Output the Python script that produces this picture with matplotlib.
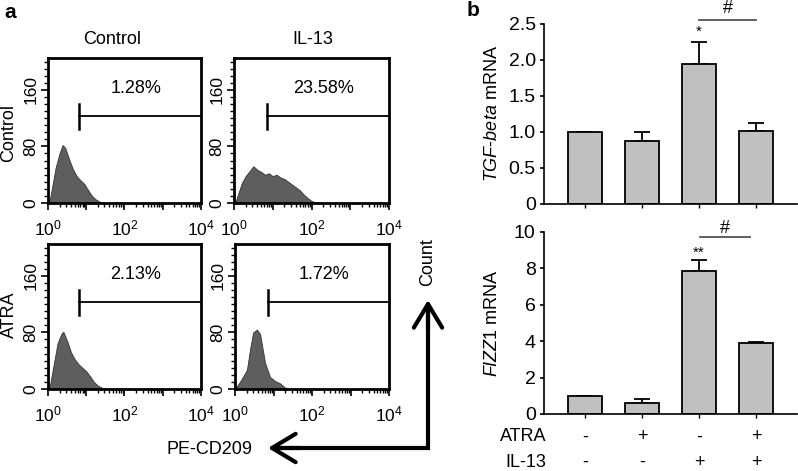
import numpy as np
import matplotlib
matplotlib.use("Agg")
import matplotlib.pyplot as plt
from matplotlib.ticker import LogLocator, MultipleLocator, FixedLocator, NullFormatter, FuncFormatter

plt.rcParams['font.family'] = ['Liberation Sans', 'DejaVu Sans']
plt.rcParams['mathtext.fontset'] = 'custom'
plt.rcParams['mathtext.rm'] = 'Liberation Sans'
plt.rcParams['mathtext.it'] = 'Liberation Sans:italic'

# ---- panel a: CD209 histograms (log10 intensity, count) ----
cc_logx = [0.0, 0.05, 0.1, 0.2, 0.3, 0.38, 0.45, 0.55, 0.65, 0.75, 0.85, 0.95, 1.05, 1.15, 1.25, 1.35, 1.45, 4.0]
cc_cnt = [2, 5, 20, 50, 70, 82, 78, 62, 48, 38, 32, 27, 18, 10, 5, 2, 0, 0]

ci_logx = [0.0, 0.05, 0.12, 0.2, 0.3, 0.4, 0.5, 0.6, 0.7, 0.8, 0.9, 1.0, 1.1, 1.2, 1.3, 1.4, 1.5, 1.6, 1.7, 1.8, 1.9, 2.0, 2.1, 2.2, 4.0]
ci_cnt = [0, 3, 15, 28, 38, 45, 52, 47, 44, 40, 42, 38, 40, 36, 34, 30, 26, 22, 18, 12, 7, 3, 1, 0, 0]

ac_logx = [0.0, 0.05, 0.15, 0.25, 0.35, 0.4, 0.5, 0.6, 0.7, 0.8, 0.9, 1.0, 1.1, 1.2, 1.3, 1.4, 1.5, 1.6, 4.0]
ac_cnt = [2, 5, 35, 65, 78, 81, 68, 52, 42, 35, 30, 25, 18, 10, 5, 2, 0.5, 0, 0]

ai_logx = [0.0, 0.05, 0.15, 0.31, 0.39, 0.47, 0.57, 0.65, 0.78, 0.91, 1.05, 1.17, 1.3, 1.45, 4.0]
ai_cnt = [1, 4, 12, 27, 56, 80, 84, 78, 37, 17, 11, 8, 2, 0, 0]

hist_x = [cc_logx, ci_logx, ac_logx, ai_logx]
hist_y = [cc_cnt, ci_cnt, ac_cnt, ai_cnt]
gate_start = [6.5, 7.1, 6.5, 7.2]
gate_pct = ['1.28%', '23.58%', '2.13%', '1.72%']
col_titles = ['Control', 'IL-13']
row_titles = ['Control', 'ATRA']

# ---- panel b: qPCR ----
groups = [0, 1, 2, 3]
tgf = [1.0, 0.87, 1.95, 1.02]
tgf_err = [0, 0.13, 0.30, 0.10]
fizz = [1.0, 0.60, 7.85, 3.92]
fizz_err = [0, 0.22, 0.60, 0.05]
atra = ['-', '+', '-', '+']
il13 = ['-', '-', '+', '+']

W, H = 798, 471
fig = plt.figure(figsize=(W / 100, H / 100), dpi=100)


def px_axes(l, t, r, b):
    return fig.add_axes([l / W, 1 - b / H, (r - l) / W, (b - t) / H])


hist_boxes = [(48, 58, 201, 203), (234, 58, 389, 203),
              (48, 244, 201, 389), (235, 244, 389, 389)]

for i, box in enumerate(hist_boxes):
    ax = px_axes(*box)
    x = 10 ** np.array(hist_x[i])
    ax.fill_between(x, 0, hist_y[i], color='#5e5e5e', edgecolor='#333333', lw=0.6)
    ax.set_xscale('log')
    ax.set_xlim(1, 1e4)
    ax.set_ylim(0, 205)
    for s in ax.spines.values():
        s.set_linewidth(2.0)
    ax.xaxis.set_major_locator(FixedLocator([1, 10, 100, 1000, 10000]))
    ax.xaxis.set_major_formatter(FuncFormatter(
        lambda v, p: r'$10^{%d}$' % round(np.log10(v)) if round(np.log10(v)) % 2 == 0 else ''))
    ax.xaxis.set_minor_locator(LogLocator(base=10, subs=np.arange(2, 10), numticks=20))
    ax.xaxis.set_minor_formatter(NullFormatter())
    ax.yaxis.set_major_locator(FixedLocator([0, 80, 160]))
    ax.yaxis.set_minor_locator(MultipleLocator(10))
    ax.set_yticklabels(['0', '80', '160'], rotation=90, va='center')
    ax.tick_params(which='major', direction='out', length=5, width=1.2, labelsize=12.5, pad=2)
    ax.tick_params(axis='x', which='major', pad=6)
    ax.tick_params(which='minor', direction='out', length=3, width=1.0)
    # gate marker
    g = gate_start[i]
    ax.plot([g, 1e4], [123, 123], color='black', lw=1.3)
    ax.plot([g, g], [105, 140], color='black', lw=1.8)
    ax.text(10 ** 2.3, 150, gate_pct[i], ha='center', va='bottom', fontsize=13)

for j, t in enumerate(col_titles):
    cx = [112, 313][j]
    fig.text(cx / W, 1 - 40 / H, t, ha='center', va='center', fontsize=13)
for j, t in enumerate(row_titles):
    cy = [133, 315][j]
    fig.text(9 / W, 1 - cy / H, t, ha='center', va='center', rotation=90, fontsize=13)

fig.text(10 / W, 1 - 12 / H, 'a', ha='center', va='center', fontsize=15, fontweight='bold')
fig.text(473 / W, 1 - 10 / H, 'b', ha='center', va='center', fontsize=15, fontweight='bold')

# L-shaped axis arrow for panel a
ov = fig.add_axes([0, 0, 1, 1])
ov.set_xlim(0, W)
ov.set_ylim(H, 0)
ov.axis('off')
ov.plot([428, 428, 275], [305, 448, 448], color='black', lw=3, solid_joinstyle='miter',
        solid_capstyle='butt')
ov.annotate('', xy=(268, 448), xytext=(300, 448),
            arrowprops=dict(arrowstyle='->,head_length=1.0,head_width=0.6', lw=3,
                            color='black', shrinkA=0, shrinkB=0, mutation_scale=17))
ov.annotate('', xy=(428, 300), xytext=(428, 330),
            arrowprops=dict(arrowstyle='->,head_length=1.0,head_width=0.6', lw=3,
                            color='black', shrinkA=0, shrinkB=0, mutation_scale=17))
ov.text(210, 450, 'PE-CD209', ha='center', va='center', fontsize=13)
ov.text(428, 262, 'Count', ha='center', va='center', rotation=90, fontsize=13)

# ---- bar charts ----
bar_kw = dict(width=0.61, color='#c0c0c0', edgecolor='black', linewidth=1.3, zorder=2)
err_kw = dict(fmt='none', ecolor='black', elinewidth=1.3, capsize=6, capthick=1.3, zorder=1)

axt = px_axes(544, 24, 797, 204)
axt.bar(groups, tgf, **bar_kw)
axt.errorbar(groups, tgf, yerr=[np.zeros(4), tgf_err], **err_kw)
axt.set_xlim(-0.72, 3.72)
axt.set_ylim(0, 2.5)
axt.set_yticks([0, 0.5, 1.0, 1.5, 2.0, 2.5])
axt.set_yticklabels(['0', '0.5', '1.0', '1.5', '2.0', '2.5'])
axt.set_ylabel(r'$\mathit{TGF}$-$\mathit{beta}$ mRNA', fontsize=13)
axt.text(2, 2.3, '*', ha='center', va='bottom', fontsize=11)
axt.plot([2, 3], [2.56, 2.56], color='#555555', lw=1.3, clip_on=False)
axt.text(2.5, 2.6, '#', ha='center', va='bottom', fontsize=13)

axb = px_axes(544, 232, 797, 414)
axb.bar(groups, fizz, **bar_kw)
axb.errorbar(groups, fizz, yerr=[np.zeros(4), fizz_err], **err_kw)
axb.set_xlim(-0.72, 3.72)
axb.set_ylim(0, 10)
axb.set_yticks([0, 2, 4, 6, 8, 10])
axb.set_ylabel(r'$\mathit{FIZZ1}$ mRNA', fontsize=13)
axb.text(2, 8.45, '**', ha='center', va='bottom', fontsize=11)
axb.plot([2.02, 2.9], [9.7, 9.7], color='#555555', lw=1.3, clip_on=False)
axb.text(2.45, 9.75, '#', ha='center', va='bottom', fontsize=13)

for ax in (axt, axb):
    ax.spines['top'].set_visible(False)
    ax.spines['right'].set_visible(False)
    ax.spines['left'].set_linewidth(1.2)
    ax.spines['bottom'].set_linewidth(1.2)
    ax.set_xticks(groups)
    ax.set_xticklabels([])
    ax.tick_params(axis='y', direction='out', length=3, width=1.2, labelsize=14, pad=3)
    ax.tick_params(axis='x', direction='out', length=3, width=1.0)
    ax.yaxis.set_label_coords(-0.17, 0.5)

for k in groups:
    axb.text(k, -0.126, atra[k], transform=axb.get_xaxis_transform(), ha='center',
             va='center', fontsize=13)
    axb.text(k, -0.268, il13[k], transform=axb.get_xaxis_transform(), ha='center',
             va='center', fontsize=13)
axb.text(0.008, -0.126, 'ATRA', transform=axb.transAxes, ha='right', va='center', fontsize=13)
axb.text(0.008, -0.268, 'IL-13', transform=axb.transAxes, ha='right', va='center', fontsize=13)

fig.savefig('out.png', dpi=100)
